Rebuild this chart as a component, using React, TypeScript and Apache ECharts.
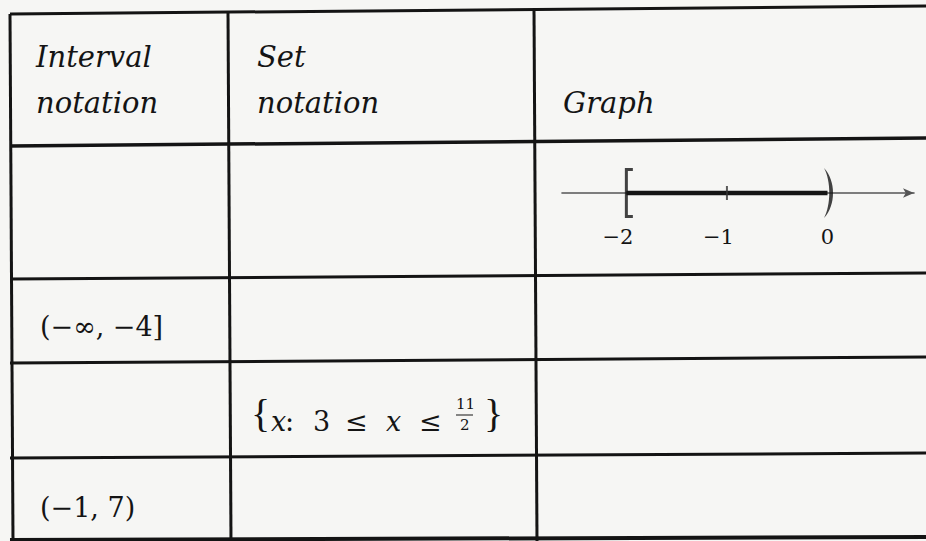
import { useEffect, useRef } from "react";
import * as echarts from "echarts";

// ---- table content ----
const headerInterval = ["Interval", "notation"];
const headerSet = ["Set", "notation"];
const headerGraph = ["Graph"];
const intervalCells = ["", "(−∞, −4]", "", "(−1, 7)"];
// set notation of row 3: {x: 3 ≤ x ≤ 11/2}
const setLower = "3";
const setUpperNum = "11";
const setUpperDen = "2";

// ---- number line (row 1) ----
const intervalStart = -2; // closed "["
const intervalEnd = 0; // open ")"
const tickValues = [-1];
const labelValues = [-2, -1, 0];
const axisMin = -2.64;
const axisMax = 0.86;

const INK = "#141414";
const BG = "#f6f6f4";

const bracketPath = "path://M0,0 L8,0 L8,3 L3,3 L3,47 L8,47 L8,50 L0,50 Z";
const parenPath = "path://M0,0 C11,13 11,37 0,50 C6.5,37 6.5,13 0,0 Z";

function buildOption() {
  // table rules (slightly tilted like the photographed page)
  const hLines = [
    { a: [10, 14], b: [930, 6], w: 3 },
    { a: [10, 146], b: [930, 138], w: 3.5 },
    { a: [10, 279], b: [930, 273], w: 3 },
    { a: [10, 363], b: [930, 357], w: 3 },
    { a: [10, 458], b: [930, 453], w: 3 },
    { a: [10, 540], b: [930, 537], w: 4 },
  ];
  const vLines = [
    { a: [10, 14], b: [13, 541], w: 3 },
    { a: [228, 12], b: [231, 541], w: 3 },
    { a: [534, 9], b: [537, 541], w: 3 },
  ];
  const graphic: any[] = [];
  hLines.concat(vLines).forEach((l) =>
    graphic.push({
      type: "line",
      shape: { x1: l.a[0], y1: l.a[1], x2: l.b[0], y2: l.b[1] },
      style: { stroke: INK, lineWidth: l.w },
      z: 1,
    })
  );

  const headStyle = {
    fontFamily: "DejaVu Serif",
    fontStyle: "italic",
    fontSize: 29,
    fill: INK,
    verticalAlign: "middle",
    align: "left",
  };
  const headY = [57, 103];
  headerInterval.forEach((t, i) =>
    graphic.push({ type: "text", x: 36, y: headY[i], style: { ...headStyle, text: t } })
  );
  headerSet.forEach((t, i) =>
    graphic.push({ type: "text", x: 257, y: headY[i], style: { ...headStyle, text: t } })
  );
  headerGraph.forEach((t) =>
    graphic.push({ type: "text", x: 563, y: headY[1], style: { ...headStyle, text: t } })
  );

  const rowMid = [210, 326, 415, 507];
  intervalCells.forEach((t, i) => {
    if (!t) return;
    graphic.push({
      type: "text",
      x: 40,
      y: rowMid[i],
      style: {
        text: t,
        fontFamily: "DejaVu Serif",
        fontSize: 27,
        fill: INK,
        verticalAlign: "middle",
        align: "left",
      },
    });
  });

  // set notation pieces
  const base = { fontFamily: "DejaVu Serif", fontSize: 27, fill: INK, verticalAlign: "middle", align: "left" };
  const setY = 421;
  const pieces: any[] = [
    { text: "{", x: 251, y: 413, fontFamily: "Liberation Serif", fontSize: 40 },
    { text: "x", x: 271, y: setY, fontStyle: "italic" },
    { text: ":", x: 285, y: setY },
    { text: setLower, x: 313, y: setY },
    { text: "≤", x: 345, y: setY },
    { text: "x", x: 386, y: setY, fontStyle: "italic" },
    { text: "≤", x: 419, y: setY },
    { text: setUpperNum, x: 456, y: 404, fontSize: 15 },
    { text: setUpperDen, x: 460, y: 425, fontSize: 15 },
    { text: "}", x: 484, y: 413, fontFamily: "Liberation Serif", fontSize: 40 },
  ];
  pieces.forEach((p) => {
    const { x, y, ...rest } = p;
    graphic.push({ type: "text", x, y, style: { ...base, ...rest } });
  });
  graphic.push({
    type: "line",
    shape: { x1: 456, y1: 415, x2: 473, y2: 415 },
    style: { stroke: INK, lineWidth: 1 },
  });

  return {
    animation: false,
    backgroundColor: BG,
    graphic,
    grid: { left: 562, top: 168, width: 352, height: 50 },
    xAxis: {
      type: "value",
      min: axisMin,
      max: axisMax,
      splitLine: { show: false },
      axisTick: { show: false },
      axisLine: {
        show: true,
        onZero: true,
        symbol: ["none", "arrow"],
        symbolSize: [7, 11],
        lineStyle: { color: "#555", width: 1.6 },
      },
      axisLabel: {
        customValues: labelValues,
        margin: 8,
        formatter: (v: number) =>
          v < 0 ? `{t|−${Math.abs(v)}}{p|\u00a0}` : `{t|${v}}`,
        rich: {
          t: { fontFamily: "DejaVu Serif", fontSize: 21, color: INK },
          p: { width: 17, fontSize: 21 },
        },
      },
    },
    yAxis: { type: "value", min: -1, max: 1, show: false },
    series: [
      {
        type: "line",
        name: "interval",
        data: [
          [intervalStart, 0],
          [intervalEnd, 0],
        ],
        symbol: "none",
        lineStyle: { color: "#151515", width: 4.5 },
        z: 3,
        silent: true,
      },
      {
        type: "scatter",
        name: "closed",
        data: [[intervalStart, 0]],
        symbol: bracketPath,
        symbolSize: [8, 50],
        symbolOffset: [2.5, 0],
        itemStyle: { color: "#151515" },
        z: 4,
        silent: true,
      },
      {
        type: "scatter",
        name: "open",
        data: [[intervalEnd, 0]],
        symbol: parenPath,
        symbolSize: [9, 50],
        symbolOffset: [1, 0],
        itemStyle: { color: "#151515" },
        z: 4,
        silent: true,
      },
      {
        type: "scatter",
        name: "ticks",
        data: tickValues.map((v) => [v, 0]),
        symbol: "rect",
        symbolSize: [2, 14],
        itemStyle: { color: "#333" },
        z: 4,
        silent: true,
      },
    ],
  };
}

export default function App() {
  const ref = useRef<HTMLDivElement>(null);
  useEffect(() => {
    const chart = echarts.init(ref.current!, null, { renderer: "svg" });
    chart.setOption(buildOption() as any);
    return () => chart.dispose();
  }, []);
  return (
    <div
      ref={ref}
      style={{ position: "absolute", left: 0, top: 0, width: 926, height: 541 }}
    />
  );
}
